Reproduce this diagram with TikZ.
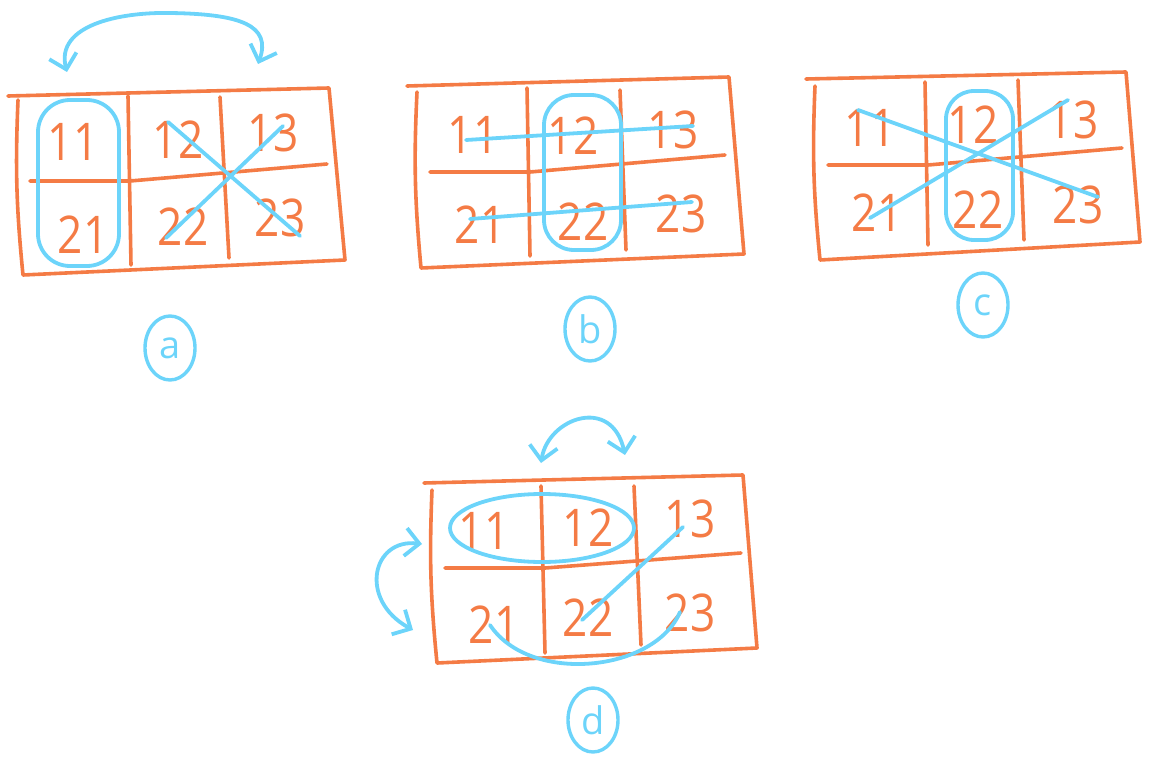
\documentclass[tikz,border=0pt]{standalone}
\usepackage{fontspec}
\setmainfont{Open Sans}
\usetikzlibrary{arrows.meta,shapes.geometric}
\definecolor{pen}{HTML}{F47B45}
\definecolor{sky}{HTML}{6CD4FA}
\tikzset{
  gridline/.style={draw=pen, line width=3.6, line cap=round, line join=round},
  hl/.style={draw=sky, line width=3.8, line cap=round, line join=round},
  num/.style={text=pen, font=\fontsize{52}{52}\selectfont, inner sep=0pt, xscale=0.85},
  tag/.style={ellipse, draw=sky, line width=3.4, text=sky, font=\fontsize{38}{38}\selectfont, minimum width=50, minimum height=64, inner sep=0pt},
  swap/.style={hl, {Straight Barb[length=14,width=28,line width=3.8]}-{Straight Barb[length=14,width=28,line width=3.8]}},
}
\begin{document}
\begin{tikzpicture}[x=1pt,y=-1pt]
\useasboundingbox (0,0) rectangle (1156,765);
% ---------------- (a)
\draw[gridline] (8,96) -- (329,88) -- (345,260) -- (23,275) to[bend left=4] (18,100);
\draw[gridline] (128,96) -- (131,265);
\draw[gridline] (220,97) -- (229,258);
\draw[gridline] (30,181) -- (130,181) -- (327,164);
\node[num] (a11) at (73,142) {11};
\node[num] (a12) at (178,140) {12};
\node[num] (a13) at (273,133) {13};
\node[num] (a21) at (83,235) {21};
\node[num] (a22) at (183,227) {22};
\node[num] (a23) at (280,218) {23};
\draw[hl, rounded corners=32] (38,100) rectangle (119,266);
\draw[hl] (168,122) -- (300,236);
\draw[hl] (283,126) -- (166,238);
\coordinate (aL) at (67,72);
\coordinate (aR) at (258,64);
\draw[swap] (aL) .. controls (55,25) and (120,12) .. (170,13) .. controls (240,14) and (272,25) .. (aR);
\node[tag] (la) at (170,348) {a};
% ---------------- (b)
\draw[gridline] (407,86) -- (729,77) -- (744,254) -- (421,268) to[bend left=4] (417,92);
\draw[gridline] (527,88) -- (530,256);
\draw[gridline] (620,90) -- (626,250);
\draw[gridline] (430,172) -- (530,172) -- (725,155);
\node[num] (b11) at (473,135) {11};
\node[num] (b12) at (573,136) {12};
\node[num] (b13) at (673,130) {13};
\node[num] (b21) at (480,225) {21};
\node[num] (b22) at (583,222) {22};
\node[num] (b23) at (681,214) {23};
\draw[hl, rounded corners=30] (544,95) rectangle (621,250);
\draw[hl] (466,140) -- (693,126);
\draw[hl] (470,219) -- (692,202);
\node[tag] (lb) at (590,329) {b};
% ---------------- (c)
\draw[gridline] (806,79) -- (1126,72) -- (1140,242) -- (820,260) to[bend left=4] (815,86);
\draw[gridline] (925,82) -- (928,245);
\draw[gridline] (1018,80) -- (1024,240);
\draw[gridline] (828,165) -- (928,165) -- (1122,148);
\node[num] (c11) at (870,128) {11};
\node[num] (c12) at (973,125) {12};
\node[num] (c13) at (1073,120) {13};
\node[num] (c21) at (877,213) {21};
\node[num] (c22) at (978,210) {22};
\node[num] (c23) at (1078,205) {23};
\draw[hl, rounded corners=28] (946,91) rectangle (1013,240);
\draw[hl] (858,110) -- (1098,197);
\draw[hl] (870,218) -- (1068,100);
\node[tag] (lc) at (983,305) {c};
% ---------------- (d)
\draw[gridline] (424,483) -- (743,475) -- (757,648) -- (437,663) to[bend left=4] (432,490);
\draw[gridline] (541,486) -- (545,653);
\draw[gridline] (634,486) -- (641,645);
\draw[gridline] (445,568) -- (545,568) -- (741,553);
\node[num] (d11) at (484,531) {11};
\node[num] (d12) at (588,528) {12};
\node[num] (d13) at (690,519) {13};
\node[num] (d21) at (494,625) {21};
\node[num] (d22) at (588,618) {22};
\node[num] (d23) at (690,613) {23};
\draw[hl] (542,528) ellipse [x radius=92, y radius=34];
\draw[hl] (683,527) -- (582,620);
\draw[hl] (490,625) .. controls (530,685) and (655,672) .. (680,612);
\coordinate (dT1) at (541,463);
\coordinate (dT2) at (625,455);
\draw[swap] (dT1) .. controls (548,418) and (612,395) .. (dT2);
\coordinate (dL1) at (422,544);
\coordinate (dL2) at (413,630);
\draw[swap] (dL1) .. controls (372,538) and (358,600) .. (dL2);
\node[tag] (ld) at (593,720) {d};
\end{tikzpicture}
\end{document}
